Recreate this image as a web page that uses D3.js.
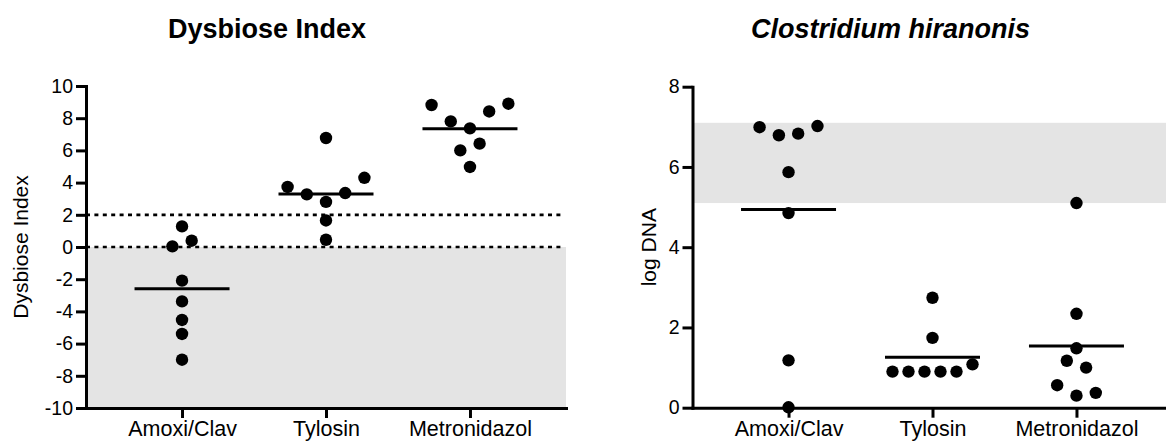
<!DOCTYPE html>
<html>
<head>
<meta charset="utf-8">
<script src="https://cdn.jsdelivr.net/npm/d3@7"></script>
<style>
  html, body { margin: 0; padding: 0; background: #fff; }
  svg { display: block; }
</style>
</head>
<body>
<div id="chart"></div>
<script>
// ---------------- DATA ----------------
const categories = ["Amoxi/Clav", "Tylosin", "Metronidazol"];

// Dysbiose Index (left panel)
const dysAmoxi = [1.28, 0.04, 0.39, -2.09, -3.38, -4.53, -5.40, -7.0];
const dysTylosin = [6.77, 3.73, 3.27, 2.80, 3.35, 4.30, 1.65, 0.45];
const dysMetro = [8.82, 7.80, 7.37, 8.42, 8.90, 6.00, 6.42, 4.97];
const dysTicks = [-10, -8, -6, -4, -2, 0, 2, 4, 6, 8, 10];
const dysDomain = [-10, 10];
const dysRefLines = [0, 2];
const dysShade = [-10, 0];

// Clostridium hiranonis (right panel)
const chAmoxi = [6.99, 6.79, 6.83, 7.02, 5.87, 4.85, 1.18, 0.01];
const chTylosin = [2.74, 1.74, 0.90, 0.90, 0.90, 0.90, 0.90, 1.08];
const chMetro = [5.10, 2.34, 1.48, 1.17, 1.00, 0.56, 0.30, 0.37];
const chTicks = [0, 2, 4, 6, 8];
const chDomain = [0, 8];
const chShade = [5.1, 7.1];

const titles = ["Dysbiose Index", "Clostridium hiranonis"];
const yTitles = ["Dysbiose Index", "log DNA"];

// ---------------- SETUP ----------------
const W = 1166, H = 444;
const FONT = "'Liberation Sans', Arial, Helvetica, sans-serif";
const svg = d3.select("#chart").append("svg")
  .attr("width", W).attr("height", H)
  .style("background", "#fff");

const DOT_R = 6.2;
const SLOT = 19.3;      // horizontal spacing between points of a row
const ROW_GAP = 10.5;   // vertical distance that merges points into a row
const COL_W = 96;       // available width of a column / mean line

// row-based scatter layout (Prism-like)
function swarm(values, y) {
  const pts = values.map((v, i) => ({ v, i, py: y(v) }));
  const sorted = pts.slice().sort((a, b) => a.py - b.py || a.i - b.i);
  const rows = [];
  let cur = null, last = null;
  for (const p of sorted) {
    if (cur && p.py - last.py < ROW_GAP) cur.push(p);
    else { cur = [p]; rows.push(cur); }
    last = p;
  }
  rows.forEach(r => {
    r.sort((a, b) => a.i - b.i);
    const sp = Math.min(SLOT, COL_W / r.length);
    r.forEach((p, k) => { p.dx = (k - (r.length - 1) / 2) * sp; });
  });
  return pts;
}

function panel(cfg) {
  const g = svg.append("g");
  const x = d3.scalePoint().domain(categories).range([cfg.x0, cfg.x0 + 480]).padding(0.667);
  const y = d3.scaleLinear().domain(cfg.domain).range([cfg.yBottom, cfg.yTop]);

  // shaded reference band
  g.append("rect")
    .attr("x", cfg.x0)
    .attr("y", y(cfg.shade[1]))
    .attr("width", 480)
    .attr("height", y(cfg.shade[0]) - y(cfg.shade[1]))
    .attr("fill", "#e4e4e4");

  // dotted reference lines
  g.selectAll("line.ref").data(cfg.refLines || []).enter().append("line")
    .attr("class", "ref")
    .attr("x1", cfg.x0).attr("x2", cfg.x0 + 478)
    .attr("y1", d => y(d)).attr("y2", d => y(d))
    .attr("stroke", "#000").attr("stroke-width", 2.7)
    .attr("stroke-dasharray", "4,4.4");

  // axes
  const ya = g.append("g").attr("transform", `translate(${cfg.x0},0)`)
    .call(d3.axisLeft(y).tickValues(cfg.ticks).tickFormat(d => String(d))
      .tickSize(10).tickSizeOuter(0).tickPadding(3));
  const xa = g.append("g").attr("transform", `translate(0,${cfg.yBottom})`)
    .call(d3.axisBottom(x).tickSize(10).tickSizeOuter(0).tickPadding(3));
  [ya, xa].forEach(a => {
    a.select(".domain").attr("stroke-width", 3).attr("stroke", "#000").attr("stroke-linecap", "square");
    a.selectAll(".tick line").attr("stroke-width", 3).attr("stroke", "#000");
    a.selectAll(".tick text").attr("fill", "#000").attr("font-family", FONT);
  });
  ya.selectAll(".tick text").attr("font-size", 19.5);
  xa.selectAll(".tick text").attr("font-size", 21.5);

  // dots and mean lines
  cfg.series.forEach((vals, ci) => {
    const cx = x(categories[ci]);
    const pts = swarm(vals, y);
    g.selectAll(null).data(pts).enter().append("circle")
      .attr("cx", d => cx + d.dx).attr("cy", d => d.py)
      .attr("r", DOT_R).attr("fill", "#000");
    const m = d3.mean(vals);
    g.append("line")
      .attr("x1", cx - COL_W / 2 + 0.5).attr("x2", cx + COL_W / 2 - 0.5)
      .attr("y1", y(m)).attr("y2", y(m))
      .attr("stroke", "#000").attr("stroke-width", 3);
  });

  // titles
  g.append("text")
    .attr("x", cfg.titleX).attr("y", 38)
    .attr("text-anchor", "middle")
    .attr("font-family", FONT).attr("font-weight", "bold")
    .attr("font-style", cfg.italic ? "italic" : "normal")
    .attr("font-size", 27).attr("fill", "#000")
    .text(cfg.title);

  g.append("text")
    .attr("transform", `translate(${cfg.yTitleX},${(cfg.yTop + cfg.yBottom) / 2}) rotate(-90)`)
    .attr("text-anchor", "middle")
    .attr("font-family", FONT).attr("font-size", 21).attr("fill", "#000")
    .text(cfg.yTitle);
}

panel({
  x0: 86, yTop: 86, yBottom: 408,
  domain: dysDomain, ticks: dysTicks, shade: dysShade, refLines: dysRefLines,
  series: [dysAmoxi, dysTylosin, dysMetro],
  title: titles[0], titleX: 267, italic: false,
  yTitle: yTitles[0], yTitleX: 28
});

panel({
  x0: 692.5, yTop: 86.7, yBottom: 407.7,
  domain: chDomain, ticks: chTicks, shade: chShade, refLines: [],
  series: [chAmoxi, chTylosin, chMetro],
  title: titles[1], titleX: 890.5, italic: true,
  yTitle: yTitles[1], yTitleX: 656
});
</script>
</body>
</html>
